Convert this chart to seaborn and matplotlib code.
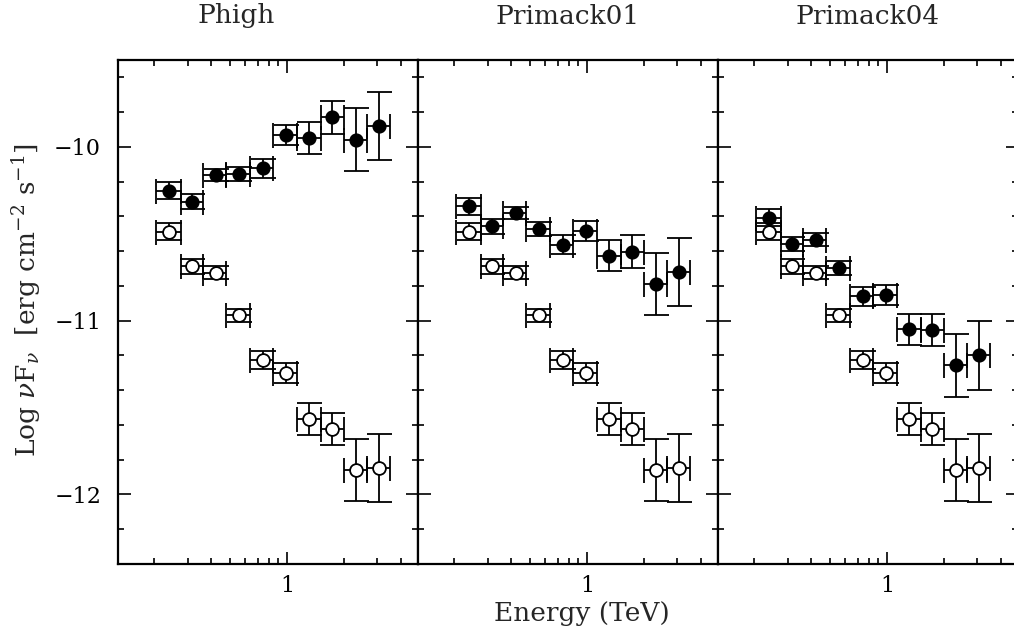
import numpy as np
import pandas as pd
import matplotlib.pyplot as plt
import matplotlib.ticker as mticker
import seaborn as sns

# energy bins (TeV)
energy = [0.24, 0.316, 0.425, 0.556, 0.748, 0.99, 1.315, 1.74, 2.31, 3.07]
bin_lo = [0.205, 0.275, 0.363, 0.48, 0.636, 0.849, 1.127, 1.51, 2.0, 2.65]
bin_hi = [0.275, 0.363, 0.48, 0.636, 0.849, 1.127, 1.51, 2.0, 2.65, 3.52]

# observed spectrum (open circles), same in every panel
flux_obs = [-10.487, -10.688, -10.724, -10.97, -11.226, -11.303, -11.565, -11.622, -11.86, -11.847]
# de-absorbed spectra (filled circles)
flux_phigh = [-10.252, -10.315, -10.162, -10.157, -10.124, -9.93, -9.948, -9.83, -9.958, -9.88]
flux_p01 = [-10.342, -10.458, -10.38, -10.472, -10.562, -10.485, -10.625, -10.602, -10.789, -10.718]
flux_p04 = [-10.407, -10.558, -10.533, -10.697, -10.86, -10.854, -11.05, -11.054, -11.257, -11.2]
flux_err = [0.048, 0.042, 0.036, 0.04, 0.053, 0.058, 0.09, 0.093, 0.18, 0.196]

titles = ["Phigh", "Primack01", "Primack04"]
models = [flux_phigh, flux_p01, flux_p04]

sns.set_theme(style="ticks")
plt.rcParams['font.family'] = ['DejaVu Serif']
plt.rcParams['mathtext.fontset'] = 'dejavuserif'

W, H = 1014, 634
fig = plt.figure(figsize=(W / 100, H / 100), dpi=100)

e = np.array(energy)
xerr = [e - np.array(bin_lo), np.array(bin_hi) - e]

lefts = [117.7, 417.7, 717.7]
title_x = [0.394, 0.5, 0.5]
for i, (title, flux) in enumerate(zip(titles, models)):
    ax = fig.add_axes([lefts[i] / W, 1 - 564 / H, 300 / W, 504 / H])
    ax.set_facecolor('white')

    # error bars (below markers)
    for y in (flux_obs, flux):
        ax.errorbar(energy, y, xerr=xerr, yerr=flux_err, fmt='none',
                    ecolor='black', elinewidth=1.3, capsize=9, capthick=1.3, zorder=2)

    df = pd.DataFrame({"energy": energy * 2,
                       "flux": flux_obs + flux,
                       "kind": ["obs"] * len(energy) + ["model"] * len(energy)})
    sns.scatterplot(data=df[df.kind == "obs"], x="energy", y="flux", ax=ax,
                    marker='o', s=85, color='white', edgecolor='black',
                    linewidth=1.3, zorder=3, legend=False)
    sns.scatterplot(data=df[df.kind == "model"], x="energy", y="flux", ax=ax,
                    marker='o', s=85, color='black', edgecolor='black',
                    linewidth=1.0, zorder=3, legend=False)

    ax.set_xscale('log')
    ax.set_xlim(0.128, 4.9)
    ax.set_ylim(-12.4, -9.5)
    ax.xaxis.set_major_locator(mticker.FixedLocator([1]))
    ax.xaxis.set_major_formatter(mticker.FormatStrFormatter('%g'))
    ax.xaxis.set_minor_locator(mticker.LogLocator(base=10, subs=np.arange(2, 10)))
    ax.xaxis.set_minor_formatter(mticker.NullFormatter())
    ax.yaxis.set_major_locator(mticker.MultipleLocator(1))
    ax.yaxis.set_minor_locator(mticker.MultipleLocator(0.2))
    ax.yaxis.set_major_formatter(mticker.FuncFormatter(lambda v, p: f"\u2212{abs(int(round(v)))}"))

    ax.tick_params(which='both', direction='in', top=True, right=True,
                   width=1.2, colors='black', labelsize=16)
    ax.tick_params(which='major', length=9, pad=8)
    ax.tick_params(which='minor', length=4.5)
    ax.tick_params(axis='y', which='major', pad=12)
    if i > 0:
        ax.tick_params(axis='y', labelleft=False)
    for sp in ax.spines.values():
        sp.set_linewidth(1.6)
        sp.set_color('black')
    ax.set_xlabel('')
    ax.set_ylabel('')
    ax.text(title_x[i], 1 + 44 / 504, title, transform=ax.transAxes,
            ha='center', va='center', fontsize=19)

fig.text(582 / W, 1 - 613 / H, "Energy (TeV)", ha='center', va='center', fontsize=19)
fig.text(27 / W, 1 - 300 / H, r"Log $\nu$F$_\nu$  [erg cm$^{-2}$ s$^{-1}$]",
         rotation=90, ha='center', va='center', fontsize=19)

fig.savefig("out.png", dpi=100)
